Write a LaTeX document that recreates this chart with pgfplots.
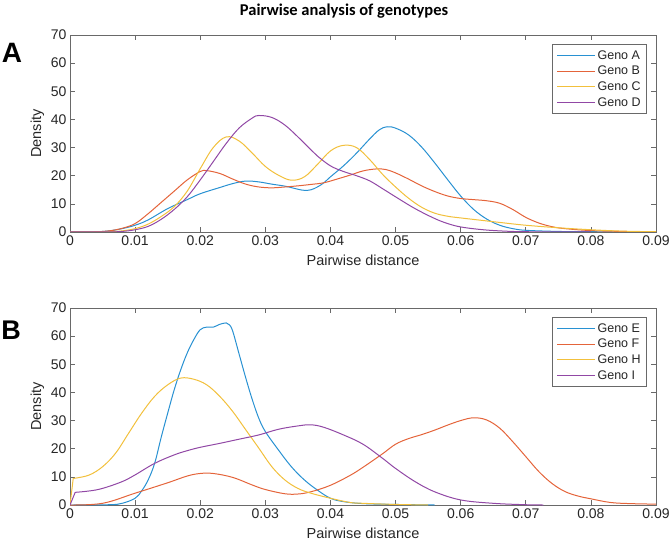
\documentclass[border=0pt]{standalone}
\usepackage{pgfplots}
\pgfplotsset{compat=1.18}
\usepackage{fontspec}
\setmainfont{Liberation Sans}
\newfontfamily\titlefont{Carlito}
\definecolor{mblue}{RGB}{40,145,210}
\definecolor{morange}{RGB}{228,100,58}
\definecolor{myellow}{RGB}{242,192,60}
\definecolor{mpurple}{RGB}{145,72,165}
\definecolor{axgray}{RGB}{105,105,105}
\pgfplotsset{
  panel/.style={
    width=586pt, height=197pt, scale only axis,
    xmin=0, xmax=0.09, ymin=0, ymax=70,
    xtick={0,0.01,0.02,0.03,0.04,0.05,0.06,0.07,0.08,0.09},
    xticklabels={0,0.01,0.02,0.03,0.04,0.05,0.06,0.07,0.08,0.09},
    ytick={0,10,20,30,40,50,60,70},
    scaled x ticks=false,
    tick align=inside, major tick length=5pt,
    axis line style={axgray, line width=0.7pt},
    every tick/.style={axgray, line width=0.7pt},
    tick label style={font=\fontsize{14}{16}\selectfont, text=black!85},
    /pgf/number format/assume math mode=true,
    label style={font=\fontsize{14.5}{17}\selectfont, text=black!85},
    xlabel={Pairwise distance}, ylabel={Density},
    xlabel style={yshift=-3pt},
    no markers,
    every axis plot/.append style={line width=1pt, smooth, tension=0.6},
    legend style={at={(rel axis cs:1,1)}, anchor=north east, xshift=-9pt, yshift=-9pt,
      draw=axgray, line width=0.7pt, font=\fontsize{12.5}{14}\selectfont, text=black!85,
      row sep=1.5pt, inner xsep=4pt, inner ysep=4pt},
    legend cell align=left,
    legend image code/.code={\draw[#1, line width=1pt] (0pt,0pt) -- (38pt,0pt);},
  }
}
\begin{document}
\begin{tikzpicture}[x=1pt,y=1pt]
\useasboundingbox (0,0) rectangle (669,544);
\node[font=\titlefont\bfseries\fontsize{16.5}{19}\selectfont] at (344,533) {Pairwise analysis of genotypes};
\node[font=\bfseries\fontsize{28}{30}\selectfont] at (12,491) {A};
\node[font=\bfseries\fontsize{27}{30}\selectfont] at (11,214) {B};

\begin{axis}[panel, at={(70pt,312pt)}, anchor=south west]
\addplot[mblue] coordinates {
(0,0) (0.004,0.1) (0.006,0.4) (0.008,1.2) (0.010,2.4) (0.012,4.3) (0.015,8.3) (0.018,11.5)
(0.020,13.6) (0.023,15.8) (0.025,17.2) (0.027,18.1) (0.029,17.8) (0.031,17.0) (0.033,16.3)
(0.035,15.2) (0.036,14.8) (0.037,15.0) (0.038,16.0) (0.039,17.5) (0.040,19.6) (0.042,23.5)
(0.044,28.0) (0.046,33.0) (0.0475,36.3) (0.0487,37.4) (0.050,36.9) (0.052,34.5) (0.054,30.2)
(0.056,24.6) (0.058,18.6) (0.060,12.8) (0.062,8.0) (0.064,4.6) (0.066,2.4) (0.068,1.2)
(0.070,0.6) (0.075,0.2) (0.080,0.1) (0.090,0)};
\addlegendentry{Geno A}
\addplot[morange] coordinates {
(0,0) (0.004,0.1) (0.006,0.4) (0.008,1.3) (0.010,3.0) (0.012,6.5) (0.014,10.5) (0.016,14.5)
(0.018,18.5) (0.020,21.5) (0.021,21.8) (0.023,20.8) (0.025,18.8) (0.027,17.0) (0.029,16.0)
(0.031,15.7) (0.033,16.0) (0.035,16.4) (0.037,16.9) (0.039,17.5) (0.041,18.8) (0.043,20.2)
(0.045,21.7) (0.047,22.4) (0.0485,22.2) (0.050,21.0) (0.052,18.8) (0.054,16.4) (0.056,14.4)
(0.058,12.8) (0.060,11.9) (0.062,11.5) (0.064,11.1) (0.066,10.2) (0.068,8.0) (0.070,5.2)
(0.072,3.2) (0.074,1.9) (0.076,1.2) (0.080,0.5) (0.085,0.2) (0.090,0)};
\addlegendentry{Geno B}
\addplot[myellow] coordinates {
(0,0) (0.006,0.1) (0.008,0.4) (0.010,1.2) (0.012,2.8) (0.014,5.5) (0.016,9.0) (0.018,14.5)
(0.020,22.5) (0.022,30.0) (0.024,33.8) (0.026,32.3) (0.028,28.0) (0.030,23.3) (0.032,20.2)
(0.034,18.4) (0.036,19.6) (0.038,24.0) (0.040,28.8) (0.042,30.8) (0.044,30.0) (0.046,25.8)
(0.048,20.5) (0.050,16.0) (0.052,12.0) (0.054,8.8) (0.056,6.7) (0.058,5.6) (0.060,5.0)
(0.063,4.2) (0.066,3.4) (0.070,2.4) (0.075,1.5) (0.080,0.8) (0.085,0.3) (0.090,0.1)};
\addlegendentry{Geno C}
\addplot[mpurple] coordinates {
(0,0) (0.006,0.05) (0.008,0.2) (0.010,0.8) (0.012,2.0) (0.014,4.5) (0.016,8.0) (0.018,12.5)
(0.020,18.5) (0.022,25.0) (0.024,31.5) (0.026,37.0) (0.028,40.5) (0.029,41.4) (0.031,40.7)
(0.033,38.0) (0.035,33.8) (0.037,29.2) (0.038,27.0) (0.040,23.5) (0.042,21.5) (0.044,20.0) (0.046,18.2)
(0.048,15.4) (0.050,12.5) (0.053,8.3) (0.056,4.8) (0.058,3.0) (0.060,1.8) (0.063,0.9)
(0.066,0.4) (0.070,0.1) (0.080,0)};
\addlegendentry{Geno D}
\end{axis}

\begin{axis}[panel, at={(70pt,39pt)}, anchor=south west]
\addplot[mblue] coordinates {
(0,0) (0.006,0.1) (0.008,0.6) (0.010,2.4) (0.011,5.0) (0.012,8.9) (0.013,14.8) (0.014,24.0)
(0.015,32.6) (0.016,40.9) (0.017,48.0) (0.018,54.0) (0.019,58.7) (0.020,62.3) (0.021,63.2)
(0.022,63.2) (0.023,64.2) (0.024,64.7) (0.0245,64.0) (0.025,61.7) (0.026,53.4) (0.027,45.1)
(0.028,37.4) (0.029,30.8) (0.030,26.1) (0.032,19.6) (0.034,13.6) (0.036,8.9) (0.038,5.3)
(0.040,2.4) (0.042,1.2) (0.045,0.5) (0.050,0.2) (0.056,0)};
\addlegendentry{Geno E}
\addplot[morange] coordinates {
(0,0) (0.005,0.6) (0.010,4.2) (0.015,7.9) (0.018,10.3) (0.020,11.2) (0.022,11.2) (0.025,9.8)
(0.028,7.1) (0.030,5.5) (0.033,4.0) (0.035,3.9) (0.037,4.7) (0.040,7.0) (0.043,10.5)
(0.045,13.4) (0.048,18.2) (0.050,21.6) (0.052,23.6) (0.054,25.0) (0.056,26.6) (0.058,28.4)
(0.060,30.0) (0.062,31.0) (0.064,30.2) (0.066,27.3) (0.068,22.5) (0.070,17.2) (0.072,11.9)
(0.074,7.7) (0.076,4.8) (0.078,3.2) (0.080,2.2) (0.083,0.9) (0.086,0.5) (0.090,0.3)};
\addlegendentry{Geno F}
\addplot[myellow] coordinates {
(0.0005,9.5) (0.001,9.6) (0.003,10.7) (0.005,13.6) (0.007,18.4) (0.009,25.5) (0.011,32.6)
(0.013,38.6) (0.015,42.7) (0.017,45.1) (0.019,44.7) (0.021,42.7) (0.023,38.6) (0.025,33.2)
(0.027,26.7) (0.029,20.2) (0.031,13.6) (0.033,8.9) (0.035,5.9) (0.037,4.2) (0.040,2.4)
(0.043,0.9) (0.045,0.6) (0.050,0.2) (0.055,0)};
\addlegendentry{Geno H}
\addplot[mpurple] coordinates {
(0.0008,4.5) (0.003,5.0) (0.005,5.9) (0.008,8.3) (0.010,10.7) (0.013,14.8) (0.016,17.8)
(0.018,19.3) (0.020,20.5) (0.023,21.9) (0.026,23.4) (0.029,24.9) (0.032,26.9) (0.035,28.1)
(0.037,28.5) (0.039,27.6) (0.042,24.9) (0.045,21.6) (0.048,16.6) (0.050,13.0) (0.053,8.3)
(0.056,4.7) (0.060,1.8) (0.065,0.6) (0.070,0.1) (0.0727,0)};
\addlegendentry{Geno I}
\addplot[myellow, forget plot, sharp plot] coordinates {(0,0) (0.0005,9.5)};
\addplot[mpurple, forget plot, sharp plot] coordinates {(0,0) (0.0008,4.5)};
\end{axis}
\end{tikzpicture}
\end{document}
